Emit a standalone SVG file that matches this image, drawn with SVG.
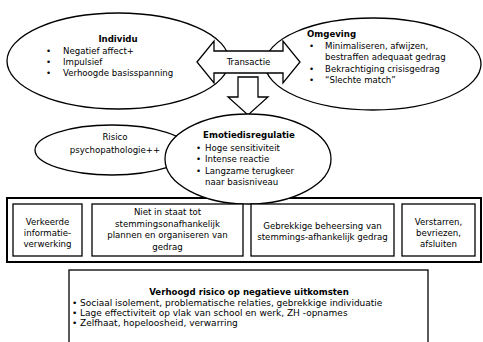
<svg xmlns="http://www.w3.org/2000/svg" width="483" height="342" viewBox="0 0 483 342">
  <style>
    .shape { fill: #fff; stroke: #000; stroke-width: 1.3; }
    .frame { fill: #fff; stroke: #000; stroke-width: 2; }
    .t { font-family: "DejaVu Sans", Verdana, sans-serif; font-size: 8.6px; fill: #000; }
    .l { font-size: 9px; }
    .b { font-weight: bold; }
    .c { text-anchor: middle; }
  </style>
  <rect width="483" height="342" fill="#fff"/>

  <g id="individu">
    <ellipse class="shape" cx="118" cy="61" rx="111" ry="48"/>
    <text class="t b c" x="118" y="42">Individu</text>
    <text class="t" x="46" y="54">•</text>
    <text class="t" x="63" y="54">Negatief affect+</text>
    <text class="t" x="46" y="65">•</text>
    <text class="t" x="63" y="65">Impulsief</text>
    <text class="t" x="46" y="76">•</text>
    <text class="t" x="63" y="76">Verhoogde basisspanning</text>
  </g>

  <g id="omgeving">
    <ellipse class="shape" cx="373" cy="64" rx="108" ry="46"/>
    <text class="t b" x="307" y="37">Omgeving</text>
    <text class="t" x="309" y="49">•</text>
    <text class="t" x="325" y="49">Minimaliseren, afwijzen,</text>
    <text class="t" x="325" y="60">bestraffen adequaat gedrag</text>
    <text class="t" x="309" y="72">•</text>
    <text class="t" x="325" y="72">Bekrachtiging crisisgedrag</text>
    <text class="t" x="309" y="83">•</text>
    <text class="t" x="325" y="83">“Slechte match”</text>
  </g>

  <g id="risico">
    <ellipse class="shape" cx="112" cy="150" rx="77" ry="25"/>
    <text class="t c" x="115" y="140">Risico</text>
    <text class="t c" x="115" y="153">psychopathologie++</text>
  </g>

  <g id="stemming-gevolgen">
    <rect class="frame" x="7" y="198" width="474" height="64"/>
  </g>

  <g id="connectors">
    <!-- two-headed block arrow between Individu and Omgeving -->
    <path class="shape" d="M197,62 L214,41 L214,51 L283,51 L283,41 L300,62 L283,83 L283,73 L214,73 L214,83 Z"/>
    <text class="t c" x="248.5" y="65">Transactie</text>
    <!-- block arrow down to Emotiedisregulatie -->
    <path class="shape" d="M238,77 L258,77 L258,97 L268,97 L248,115 L228,97 L238,97 Z"/>
  </g>

  <g id="emotiedisregulatie">
    <ellipse class="shape" cx="248" cy="159" rx="83" ry="45"/>
    <text class="t b c" x="249" y="138">Emotiedisregulatie</text>
    <text class="t" x="196" y="151">•</text>
    <text class="t" x="205" y="151">Hoge sensitiviteit</text>
    <text class="t" x="196" y="162">•</text>
    <text class="t" x="205" y="162">Intense reactie</text>
    <text class="t" x="196" y="174">•</text>
    <text class="t" x="205" y="174">Langzame terugkeer</text>
    <text class="t" x="205" y="185">naar basisniveau</text>
  </g>

  <g id="informatieverwerking">
    <rect class="shape" x="13" y="204" width="69" height="52"/>
    <text class="t c" x="47.5" y="225">Verkeerde</text>
    <text class="t c" x="47.5" y="236">informatie-</text>
    <text class="t c" x="47.5" y="247">verwerking</text>
  </g>

  <g id="plannen">
    <rect class="shape" x="92" y="204" width="151" height="52"/>
    <text class="t c" x="167.5" y="215">Niet in staat tot</text>
    <text class="t c" x="167.5" y="226.5">stemmingsonafhankelijk</text>
    <text class="t c" x="167.5" y="238">plannen en organiseren van</text>
    <text class="t c" x="167.5" y="249.5">gedrag</text>
  </g>

  <g id="beheersing">
    <rect class="shape" x="251" y="204" width="143" height="52"/>
    <text class="t c" x="322.5" y="229">Gebrekkige beheersing van</text>
    <text class="t c" x="322.5" y="240">stemmings-afhankelijk gedrag</text>
  </g>

  <g id="verstarren">
    <rect class="shape" x="402" y="204" width="73" height="52"/>
    <text class="t c" x="438.5" y="224.5">Verstarren,</text>
    <text class="t c" x="438.5" y="235.5">bevriezen,</text>
    <text class="t c" x="438.5" y="246.5">afsluiten</text>
  </g>

  <g id="uitkomsten">
    <rect class="shape" x="69" y="270" width="359" height="90"/>
    <text class="t b c" x="249" y="295">Verhoogd risico op  negatieve uitkomsten</text>
    <text class="t l" x="72" y="305.5">•</text>
    <text class="t l" x="80" y="305.5">Sociaal isolement, problematische relaties, gebrekkige individuatie</text>
    <text class="t l" x="72" y="315.5">•</text>
    <text class="t l" x="80" y="315.5">Lage effectiviteit op vlak van school en werk, ZH -opnames</text>
    <text class="t l" x="72" y="325.5">•</text>
    <text class="t l" x="80" y="325.5">Zelfhaat, hopeloosheid, verwarring</text>
  </g>
</svg>
